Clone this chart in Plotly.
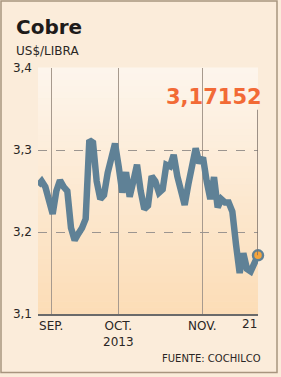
import plotly.graph_objects as go

# ---- data ----
day_index = list(range(61))
precio = [3.257, 3.262, 3.255, 3.238, 3.222, 3.250, 3.263, 3.255, 3.250, 3.205,
          3.190, 3.198, 3.205, 3.216, 3.312, 3.309, 3.262, 3.240, 3.245, 3.272,
          3.290, 3.308, 3.280, 3.248, 3.273, 3.243, 3.262, 3.282, 3.250, 3.228,
          3.232, 3.268, 3.262, 3.248, 3.252, 3.282, 3.280, 3.294, 3.268, 3.250,
          3.233, 3.258, 3.280, 3.302, 3.284, 3.291, 3.262, 3.240, 3.267, 3.230,
          3.240, 3.236, 3.236, 3.225, 3.185, 3.150, 3.174, 3.155, 3.152, 3.162,
          3.17152]
month_ticks = [3.6, 21.9, 44.8]
month_labels = ["SEP.", "OCT.<br>2013", "NOV."]
last_label = "21"
y_ticks = [3.1, 3.2, 3.3, 3.4]
y_labels = ["3,1", "3,2", "3,3", "3,4"]
valor_final = "3,17152"

W, H = 281, 377
ML, MR, MT, MB = 38, 23, 68, 63
PW, PH = W - ML - MR, H - MT - MB

FONT = "DejaVu Sans"
LINE = "#5f8196"

fig = go.Figure()
fig.add_trace(go.Scatter(
    x=day_index, y=precio, mode="lines",
    line=dict(color=LINE, width=6.5, shape="linear"),
    hoverinfo="skip", cliponaxis=False))
fig.add_trace(go.Scatter(
    x=[day_index[-1]], y=[precio[-1]], mode="markers",
    marker=dict(size=10, color="#f7a53c", line=dict(color=LINE, width=2.5)),
    hoverinfo="skip", cliponaxis=False))

shapes = []
# vertical gradient background of plotting area
top = (253, 245, 236)
bot = (252, 221, 183)
N = 40
for i in range(N):
    t = i / (N - 1)
    c = tuple(int(round(top[k] + (bot[k] - top[k]) * t)) for k in range(3))
    shapes.append(dict(type="rect", xref="x domain", yref="y domain",
                       x0=0, x1=1, y0=1 - (i + 1) / N, y1=1 - i / N + 0.002,
                       fillcolor="rgb(%d,%d,%d)" % c, line=dict(width=0),
                       layer="below"))
# leader line from value label to last point
shapes.append(dict(type="line", xref="x", yref="y",
                   x0=day_index[-1], x1=day_index[-1], y0=3.349, y1=precio[-1],
                   line=dict(color="#7d7168", width=1.5)))
# outer frame
shapes.append(dict(type="rect", xref="paper", yref="paper",
                   x0=(1 - ML) / PW, x1=(W - 4 - ML) / PW,
                   y0=-(MB - 4.5) / PH, y1=1 + (MT - 1) / PH,
                   line=dict(color="#a8957f", width=1.5)))

annotations = [
    dict(text="<b>Cobre</b>", xref="paper", yref="paper",
         x=(14 - ML) / PW, y=1 + (MT - 13) / PH, xanchor="left", yanchor="top",
         showarrow=False, font=dict(family=FONT, size=20, color="#1e1b1a")),
    dict(text="US$/LIBRA", xref="paper", yref="paper",
         x=(14 - ML) / PW, y=1 + (MT - 42) / PH, xanchor="left", yanchor="top",
         showarrow=False, font=dict(family=FONT, size=12, color="#2a2624")),
    dict(text="<b>" + valor_final + "</b>", xref="paper", yref="paper",
         x=(264 - ML) / PW, y=1 - (97 - MT) / PH, xanchor="right", yanchor="middle",
         showarrow=False, font=dict(family=FONT, size=21, color="#f26a36")),
    dict(text=last_label, xref="x", yref="paper",
         x=day_index[-1], y=1 - (324 - MT) / PH, xanchor="right", yanchor="middle",
         xshift=1, showarrow=False, font=dict(family=FONT, size=12, color="#2a2624")),
    dict(text="FUENTE: COCHILCO", xref="paper", yref="paper",
         x=(263 - ML) / PW, y=1 - (358 - MT) / PH, xanchor="right", yanchor="middle",
         showarrow=False, font=dict(family=FONT, size=10, color="#2a2624")),
]

fig.update_layout(
    width=W, height=H,
    margin=dict(l=ML, r=MR, t=MT, b=MB, pad=0),
    paper_bgcolor="#fbecda", plot_bgcolor="#fbecda",
    showlegend=False,
    shapes=shapes, annotations=annotations,
    xaxis=dict(range=[0, 60], tickvals=month_ticks, ticktext=month_labels,
               showgrid=True, gridcolor="#a79a8e", gridwidth=1,
               zeroline=False, showline=True, linecolor="#6a6a6a", linewidth=2,
               ticks="", ticklen=0,
               tickfont=dict(family=FONT, size=12, color="#2a2624"),
               fixedrange=True),
    yaxis=dict(range=[3.1, 3.4], tickvals=y_ticks, ticktext=y_labels,
               showgrid=True, gridcolor="#9c9590", gridwidth=1, griddash="dash",
               zeroline=False, showline=False, ticks="", ticklabelstandoff=5,
               tickfont=dict(family=FONT, size=12, color="#2a2624"),
               fixedrange=True),
)

fig.write_html("out.html", config={"displayModeBar": False})
